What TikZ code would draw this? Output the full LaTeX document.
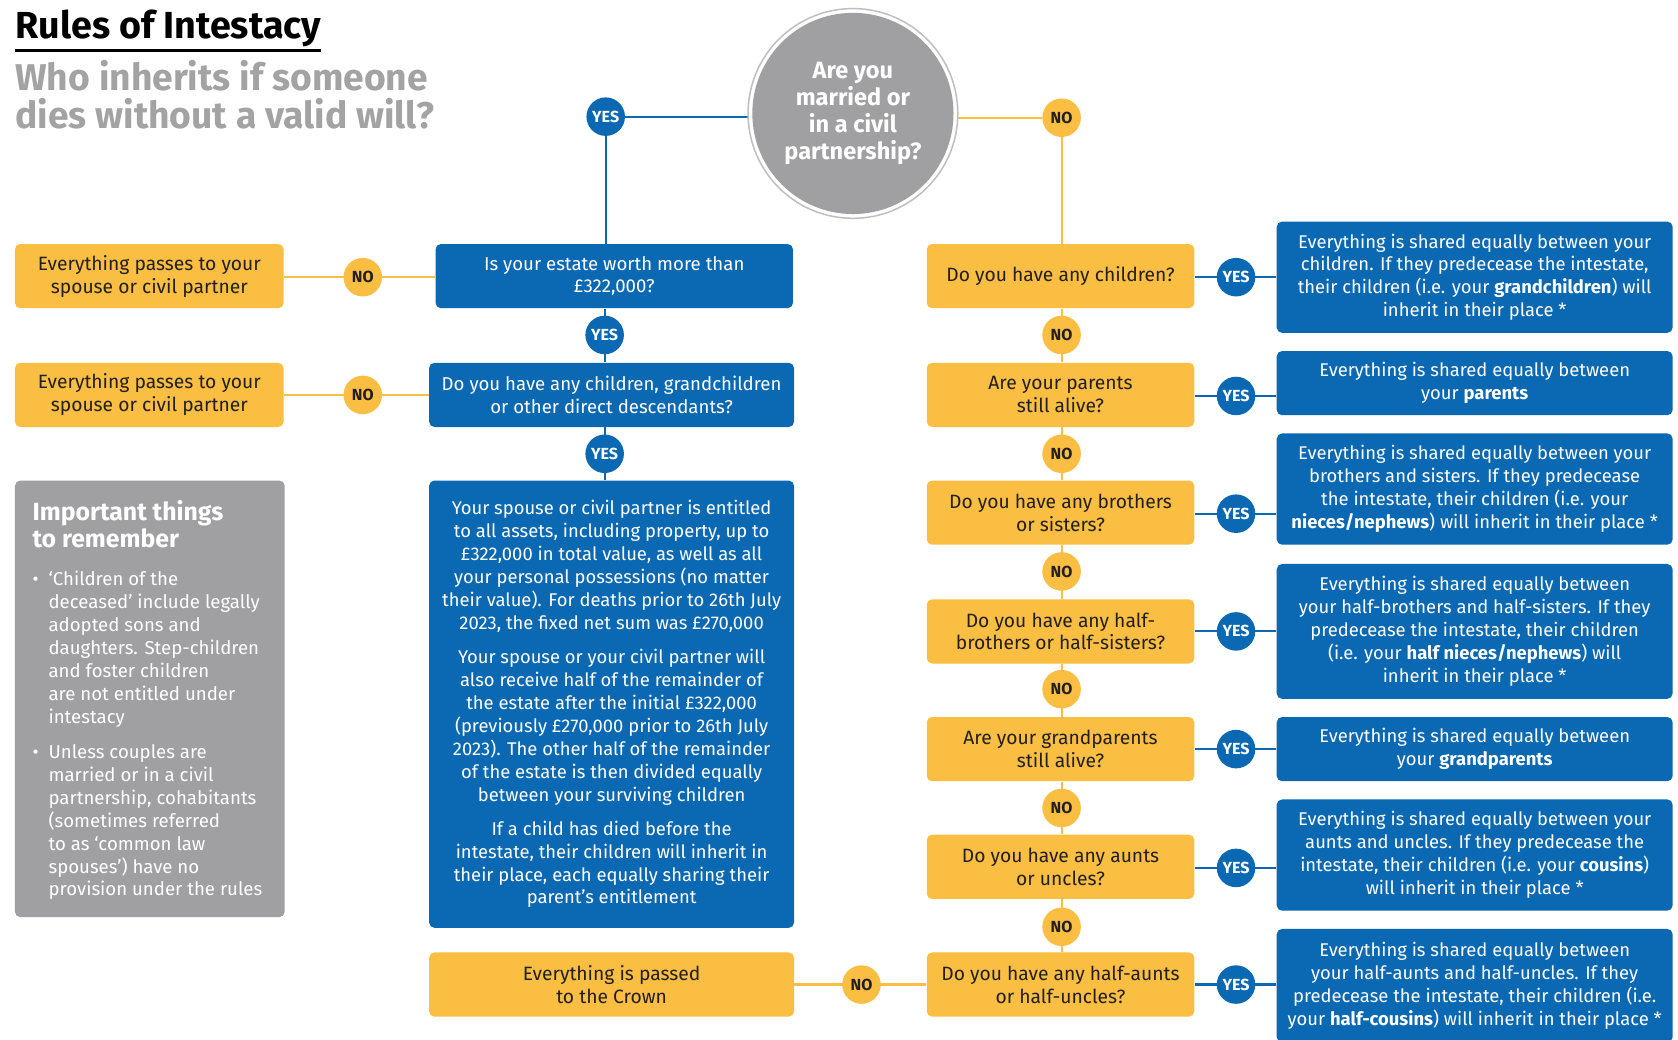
\documentclass[tikz,border=0pt]{standalone}
\usepackage{fontspec}
\setmainfont{Fira Sans}
\usetikzlibrary{calc}
\definecolor{iblue}{RGB}{11,104,178}
\definecolor{iorange}{RGB}{249,190,66}
\definecolor{igray}{RGB}{160,160,162}
\definecolor{isub}{RGB}{163,163,163}
\definecolor{itext}{RGB}{35,31,32}
\pgfdeclarelayer{bg}
\pgfsetlayers{bg,main}
\begin{document}
\begin{tikzpicture}[x=0.5pt,y=-0.5pt,
  box/.style={rounded corners=2.5pt, inner sep=0pt, align=center, font=\fontsize{9}{10.7}\selectfont},
  obox/.style={box, fill=iorange, text=itext},
  bbox/.style={box, fill=iblue, text=white},
  rbox/.style={bbox, minimum width=185pt, font=\fontsize{8.6}{10.7}\selectfont},
  lbl/.style={circle, minimum size=18pt, inner sep=0pt, font=\fontsize{7.5}{7.5}\selectfont\bfseries},
  yes/.style={lbl, fill=iblue, text=white},
  no/.style={lbl, fill=iorange, text=itext},
  bl/.style={draw=iblue, line width=1pt},
  ol/.style={draw=iorange, line width=1pt}]
\useasboundingbox (0,0) rectangle (1568,971);
\clip (0,0) rectangle (1568,971);

% titles
\node[anchor=base west, inner sep=0pt, font=\fontsize{17.6}{17.6}\selectfont\bfseries] (title) at (14,36) {Rules of Intestacy};
\draw[line width=1.2pt] (14,47) -- (300,47);
\node[anchor=north west, inner sep=0pt, text=isub, align=left, font=\fontsize{17.4}{17.5}\selectfont\bfseries] (sub) at (14,56) {Who inherits if someone\\dies without a valid will?};

% central question
\node[circle, fill=igray, minimum size=94pt, inner sep=0pt, text=white, align=center, font=\fontsize{11}{12.5}\selectfont\bfseries] (q0) at (797,106) {Are you\\married or\\in a civil\\partnership?};
\node[yes] (y0) at (566,109) {YES};
\node[no] (n0) at (992,110) {NO};

% left column
\node[obox, minimum width=125.5pt, minimum height=30pt] (a1) at (139.5,258) {Everything passes to your\\spouse or civil partner};
\node[obox, minimum width=125.5pt, minimum height=30pt] (a2) at (139.5,369) {Everything passes to your\\spouse or civil partner};
\node[no] (n1) at (339,259) {NO};
\node[no] (n2) at (339,369) {NO};
\node[bbox, minimum width=167pt, minimum height=30pt, font=\fontsize{8.7}{10.7}\selectfont] (q1) at (574,258) {Is your estate worth more than\\£322,000?};
\node[bbox, minimum width=170.5pt, minimum height=30pt, font=\fontsize{8.7}{10.7}\selectfont] (q2) at (571.5,369) {Do you have any children, grandchildren\\or other direct descendants?};
\node[yes] (y1) at (565,313) {YES};
\node[yes] (y2) at (565,424) {YES};
\node[bbox, minimum width=170.5pt, minimum height=209pt, font=\fontsize{8.6}{10.7}\selectfont] (big) at (571.5,658) {Your spouse or civil partner is entitled\\to all assets, including property, up to\\£322,000 in total value, as well as all\\your personal possessions (no matter\\their value). For deaths prior to 26th July\\2023, the fixed net sum was £270,000\\[5.3pt]
Your spouse or your civil partner will\\also receive half of the remainder of\\the estate after the initial £322,000\\(previously £270,000 prior to 26th July\\2023). The other half of the remainder\\of the estate is then divided equally\\between your surviving children\\[5.3pt]
If a child has died before the\\intestate, their children will inherit in\\their place, each equally sharing their\\parent’s entitlement};
\node[obox, minimum width=170.5pt, minimum height=30pt] (crown) at (571.5,920) {Everything is passed\\to the Crown};

% grey notes box
\node[fill=igray, rounded corners=2.5pt, minimum width=126pt, minimum height=204pt, inner sep=0pt] (notes) at (140,653) {};
\node[anchor=base west, inner sep=0pt, text=white, font=\fontsize{11.6}{13}\selectfont\bfseries] (h1) at (30,486) {Important things};
\node[anchor=base west, inner sep=0pt, text=white, font=\fontsize{11.6}{13}\selectfont\bfseries] (h2) at (30,512) {to remember};
\node[anchor=north west, inner sep=0pt, text=white, font=\fontsize{8.7}{10.7}\selectfont] (gtext) at (30,532) {\begin{tabular}{@{}p{7.5pt}@{}l@{}}
•&‘Children of the\\
&deceased’ include legally\\
&adopted sons and\\
&daughters. Step-children\\
&and foster children\\
&are not entitled under\\
&intestacy\\[5.8pt]
•&Unless couples are\\
&married or in a civil\\
&partnership, cohabitants\\
&(sometimes referred\\
&to as ‘common law\\
&spouses’) have no\\
&provision under the rules
\end{tabular}};

% right column questions
\node[obox, minimum width=125pt, minimum height=30pt] (c1) at (991,258) {Do you have any children?};
\node[obox, minimum width=125pt, minimum height=30pt] (c2) at (991,369) {Are your parents\\still alive?};
\node[obox, minimum width=125pt, minimum height=30pt] (c3) at (991,479) {Do you have any brothers\\or sisters?};
\node[obox, minimum width=125pt, minimum height=30pt] (c4) at (991,590) {Do you have any half-\\brothers or half-sisters?};
\node[obox, minimum width=125pt, minimum height=30pt] (c5) at (991,700) {Are your grandparents\\still alive?};
\node[obox, minimum width=125pt, minimum height=30pt] (c6) at (991,810) {Do you have any aunts\\or uncles?};
\node[obox, minimum width=125pt, minimum height=30pt] (c7) at (991,920) {Do you have any half-aunts\\or half-uncles?};

\node[no] (m1) at (992,313) {NO};
\node[no] (m2) at (992,424) {NO};
\node[no] (m3) at (992,534) {NO};
\node[no] (m4) at (992,644) {NO};
\node[no] (m5) at (992,755) {NO};
\node[no] (m6) at (992,866) {NO};
\node[no] (m7) at (805,920) {NO};

\node[yes] (r1) at (1155,259) {YES};
\node[yes] (r2) at (1155,370) {YES};
\node[yes] (r3) at (1155,480) {YES};
\node[yes] (r4) at (1155,590) {YES};
\node[yes] (r5) at (1155,700) {YES};
\node[yes] (r6) at (1155,811) {YES};
\node[yes] (r7) at (1155,920) {YES};

% right column outcomes
\node[rbox, minimum height=52pt] (b1) at (1378,259) {Everything is shared equally between your\\children. If they predecease the intestate,\\their children (i.e. your \textbf{grandchildren}) will\\inherit in their place *};
\node[rbox, minimum height=30pt] (b2) at (1378,358) {Everything is shared equally between\\your \textbf{parents}};
\node[rbox, minimum height=52pt] (b3) at (1378,457) {Everything is shared equally between your\\brothers and sisters. If they predecease\\the intestate, their children (i.e. your\\\textbf{nieces/nephews}) will inherit in their place *};
\node[rbox, minimum height=63pt] (b4) at (1378,590) {Everything is shared equally between\\your half-brothers and half-sisters. If they\\predecease the intestate, their children\\(i.e. your \textbf{half nieces/nephews}) will\\inherit in their place *};
\node[rbox, minimum height=30pt] (b5) at (1378,700) {Everything is shared equally between\\your \textbf{grandparents}};
\node[rbox, minimum height=52pt] (b6) at (1378,799) {Everything is shared equally between your\\aunts and uncles. If they predecease the\\intestate, their children (i.e. your \textbf{cousins})\\will inherit in their place *};
\node[rbox, minimum height=53pt] (b7) at (1378,921) {Everything is shared equally between\\your half-aunts and half-uncles. If they\\predecease the intestate, their children (i.e.\\your \textbf{half-cousins}) will inherit in their place *};

% connectors
\begin{pgfonlayer}{bg}
\fill[white] (0,0) rectangle (1568,971);
\draw[bl] (y0) -- (y0 -| q0.west);
\draw[bl] (y0) -- (y0 |- q1.north);
\draw[ol] (n0) -- (n0 -| q0.east);
\draw[ol] (n0) -- (n0 |- c1.north);
\draw[fill=white, draw=black!25, line width=0.7pt] (q0.center) circle[radius=49pt];
\draw[ol] (n1 -| a1.east) -- (n1 -| q1.west);
\draw[ol] (n2 -| a2.east) -- (n2 -| q2.west);
\draw[bl] (y1 |- q1.south) -- (y1 |- q2.north);
\draw[bl] (y2 |- q2.south) -- (y2 |- big.north);
\draw[ol] (m1 |- c1.south) -- (m1 |- c2.north);
\draw[ol] (m2 |- c2.south) -- (m2 |- c3.north);
\draw[ol] (m3 |- c3.south) -- (m3 |- c4.north);
\draw[ol] (m4 |- c4.south) -- (m4 |- c5.north);
\draw[ol] (m5 |- c5.south) -- (m5 |- c6.north);
\draw[ol] (m6 |- c6.south) -- (m6 |- c7.north);
\draw[ol] (m7 -| crown.east) -- (m7 -| c7.west);
\draw[bl] (r1 -| c1.east) -- (r1 -| b1.west);
\draw[bl] (r2 -| c2.east) -- (r2 -| b2.west);
\draw[bl] (r3 -| c3.east) -- (r3 -| b3.west);
\draw[bl] (r4 -| c4.east) -- (r4 -| b4.west);
\draw[bl] (r5 -| c5.east) -- (r5 -| b5.west);
\draw[bl] (r6 -| c6.east) -- (r6 -| b6.west);
\draw[bl] (r7 -| c7.east) -- (r7 -| b7.west);
\end{pgfonlayer}
\end{tikzpicture}
\end{document}
